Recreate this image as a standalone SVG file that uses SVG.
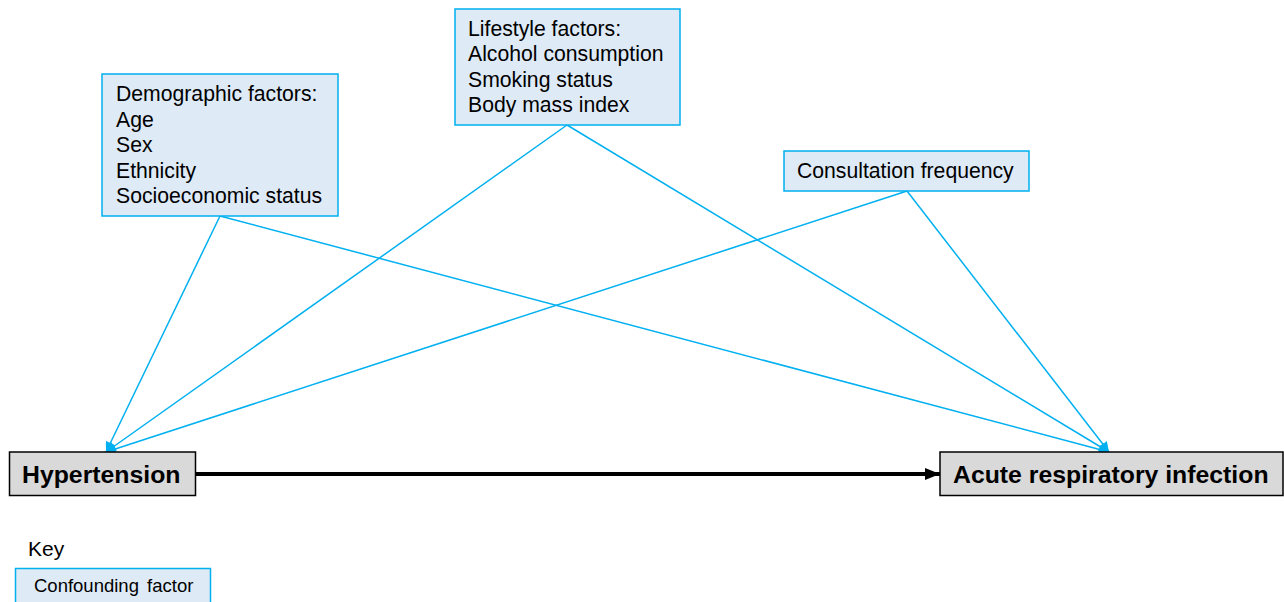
<svg xmlns="http://www.w3.org/2000/svg" width="1284" height="602" viewBox="0 0 1284 602">
<style>
.conf{fill:#DEEAF6;stroke:#00B0F0;stroke-width:1.5}
.main{fill:#D9D9D9;stroke:#000;stroke-width:1.5}
.t{font-family:"Liberation Sans",Arial,sans-serif;font-size:21.2px;fill:#000}
.b{font-family:"Liberation Sans",Arial,sans-serif;font-size:24.8px;font-weight:bold;fill:#000}
.k{font-family:"Liberation Sans",Arial,sans-serif;font-size:18.5px;fill:#000}
.c{stroke:#00B0F0;stroke-width:1.5;fill:none;marker-end:url(#ah)}
</style>
<defs>
<marker id="ah" viewBox="0 0 10 10" refX="10" refY="5" markerWidth="12" markerHeight="10" markerUnits="userSpaceOnUse" orient="auto">
<path d="M0,0 L10,5 L0,10 z" fill="#00B0F0"/>
</marker>
<marker id="bh" viewBox="0 0 10 10" refX="10" refY="5" markerWidth="15" markerHeight="15" markerUnits="userSpaceOnUse" orient="auto">
<path d="M0,1 L10,5 L0,9 z" fill="#000"/>
</marker>
</defs>
<rect width="1284" height="602" fill="#fff"/>
<g id="connectors">
<line class="c" x1="220" y1="216" x2="106" y2="452"/>
<line class="c" x1="220" y1="216" x2="1109" y2="452"/>
<line class="c" x1="567" y1="125" x2="106" y2="452"/>
<line class="c" x1="567" y1="125" x2="1109" y2="452"/>
<line class="c" x1="907" y1="191" x2="106" y2="452"/>
<line class="c" x1="907" y1="191" x2="1109" y2="452"/>
<line x1="196" y1="474" x2="940" y2="474" stroke="#000" stroke-width="4" marker-end="url(#bh)"/>
</g>
<g id="demographic">
<rect class="conf" x="102" y="74" width="236" height="142"/>
<text class="t" x="116" y="101">Demographic factors:</text>
<text class="t" x="116" y="126.5">Age</text>
<text class="t" x="116" y="152">Sex</text>
<text class="t" x="116" y="177.5">Ethnicity</text>
<text class="t" x="116" y="203">Socioeconomic status</text>
</g>
<g id="lifestyle">
<rect class="conf" x="455" y="9" width="225" height="116"/>
<text class="t" x="468" y="35.5">Lifestyle factors:</text>
<text class="t" x="468" y="61">Alcohol consumption</text>
<text class="t" x="468" y="86.5">Smoking status</text>
<text class="t" x="468" y="112">Body mass index</text>
</g>
<g id="consultation">
<rect class="conf" x="784" y="151" width="245" height="40"/>
<text class="t" x="797" y="178">Consultation frequency</text>
</g>
<g id="hypertension">
<rect class="main" x="9.5" y="452" width="186" height="43.5"/>
<text class="b" x="22" y="482.5">Hypertension</text>
</g>
<g id="ari">
<rect class="main" x="940" y="452" width="343" height="43.5"/>
<text class="b" x="953" y="482.5">Acute respiratory infection</text>
</g>
<g id="key">
<text class="k" x="28" y="556" style="font-size:21px">Key</text>
<rect class="conf" x="15.5" y="568.5" width="195" height="40"/>
<text class="k" x="34" y="592" word-spacing="3">Confounding factor</text>
</g>
</svg>
